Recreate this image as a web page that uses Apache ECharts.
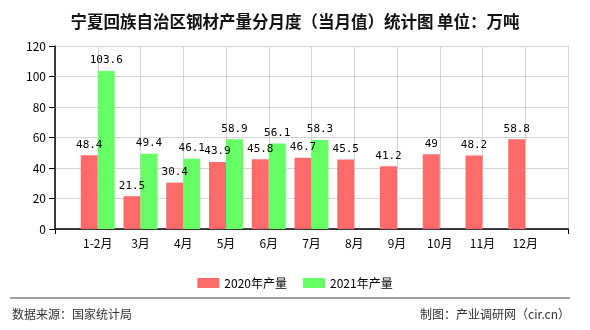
<!DOCTYPE html>
<html>
<head>
<meta charset="utf-8">
<script src="https://cdn.jsdelivr.net/npm/echarts@6/dist/echarts.min.js"></script>
<style>
  html, body { margin: 0; padding: 0; background: #fff; }
  #chart { width: 590px; height: 330px; }
</style>
</head>
<body>
<div id="chart"></div>
<script>
// Monthly steel output (10k tonnes), Ningxia
const months = ['1-2月', '3月', '4月', '5月', '6月', '7月', '8月', '9月', '10月', '11月', '12月'];
const output2020 = [48.4, 21.5, 30.4, 43.9, 45.8, 46.7, 45.5, 41.2, 49, 48.2, 58.8];
const output2021 = [103.6, 49.4, 46.1, 58.9, 56.1, 58.3];
const seriesNames = ['2020年产量', '2021年产量'];
const yTicks = { min: 0, max: 120, interval: 20 };

// Pad the axis with an empty slot at each end so months sit between them
const axisCats = [''].concat(months, ['']);
function pad(values) {
  const out = [null];
  for (let i = 0; i < months.length; i++) out.push(i < values.length ? values[i] : null);
  out.push(null);
  return out;
}

const monoFont = '"DejaVu Sans Mono", "Noto Sans CJK SC", monospace';
const cjkFont = '"Noto Sans CJK SC", sans-serif';

const chart = echarts.init(document.getElementById('chart'), null, { renderer: 'canvas' });
chart.setOption({
  animation: false,
  backgroundColor: '#ffffff',
  title: {
    text: '宁夏回族自治区钢材产量分月度（当月值）统计图 单位：万吨',
    left: 'center',
    top: 8,
    textStyle: { fontFamily: cjkFont, fontSize: 16.5, fontWeight: 'bold', color: '#111' }
  },
  legend: {
    data: seriesNames,
    left: 'center',
    top: 272,
    itemWidth: 22,
    itemHeight: 10,
    itemGap: 16,
    icon: 'rect',
    textStyle: { fontFamily: cjkFont, fontSize: 12, color: '#000' }
  },
  grid: { left: 55, right: 22, top: 46, bottom: 101, containLabel: false },
  xAxis: {
    type: 'category',
    data: axisCats,
    boundaryGap: false,
    axisLine: { lineStyle: { color: '#000', width: 1.5 } },
    axisTick: {
      show: true,
      length: 5,
      interval: function (idx) { return idx === 0 || idx === axisCats.length - 1; },
      lineStyle: { color: '#000' }
    },
    axisLabel: { interval: 0, margin: 8, fontFamily: cjkFont, fontSize: 12, color: '#000' },
    splitLine: { show: true, lineStyle: { color: '#d4d4d4', width: 1 } }
  },
  yAxis: {
    type: 'value',
    min: yTicks.min,
    max: yTicks.max,
    interval: yTicks.interval,
    axisLine: { show: true, lineStyle: { color: '#000', width: 1.5 } },
    axisTick: { show: true, length: 6, lineStyle: { color: '#000' } },
    axisLabel: { margin: 9, fontFamily: cjkFont, fontSize: 12, color: '#000' },
    splitLine: { show: true, lineStyle: { color: '#d4d4d4', width: 1 } }
  },
  series: [
    {
      name: seriesNames[0],
      type: 'bar',
      data: pad(output2020),
      barWidth: 17,
      barGap: '0%',
      itemStyle: { color: '#ff6a6a', borderRadius: 0 },
      label: {
        show: true, position: 'top', distance: 5,
        fontFamily: monoFont, fontSize: 11, color: '#000'
      }
    },
    {
      name: seriesNames[1],
      type: 'bar',
      data: pad(output2021),
      barWidth: 17,
      barGap: '0%',
      itemStyle: { color: '#66ff66', borderRadius: 0 },
      label: {
        show: true, position: 'top', distance: 5,
        fontFamily: monoFont, fontSize: 11, color: '#000'
      }
    }
  ],
  graphic: [
    {
      type: 'line',
      shape: { x1: 10, y1: 298, x2: 570, y2: 298 },
      style: { stroke: '#808080', lineWidth: 1.5 }
    },
    {
      type: 'text',
      left: 12,
      top: 308,
      style: { text: '数据来源：国家统计局', font: '12px ' + cjkFont, fill: '#333' }
    },
    {
      type: 'text',
      right: 20,
      top: 308,
      style: { text: '制图：产业调研网（cir.cn）', font: '12px ' + cjkFont, fill: '#333' }
    }
  ]
});
</script>
</body>
</html>
